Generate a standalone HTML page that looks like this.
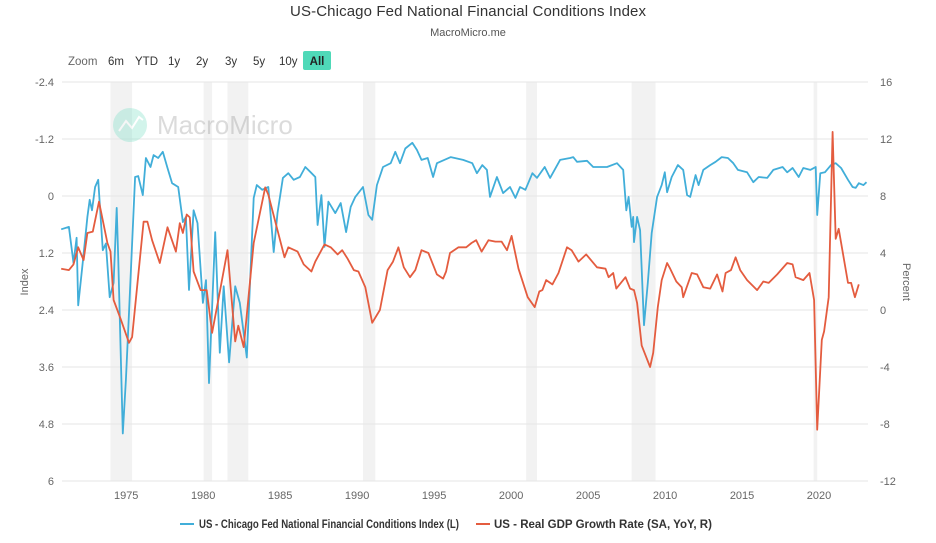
<!DOCTYPE html>
<html><head><meta charset="utf-8"><style>
body{margin:0;background:#fff;font-family:"Liberation Sans",sans-serif}
svg{display:block}
</style></head><body>
<svg id="chart" width="936" height="543" xmlns="http://www.w3.org/2000/svg">
<text x="468" y="16" text-anchor="middle" font-size="15" fill="#333" textLength="356">US-Chicago Fed National Financial Conditions Index</text>
<text x="468" y="36" text-anchor="middle" font-size="11" fill="#555">MacroMicro.me</text>
<g font-size="11.5" fill="#555">
<text x="68" y="65" fill="#666">Zoom</text>
<text x="108" y="65" fill="#333">6m</text>
<text x="135" y="65" fill="#333">YTD</text>
<text x="168" y="65" fill="#333">1y</text>
<text x="196" y="65" fill="#333">2y</text>
<text x="225" y="65" fill="#333">3y</text>
<text x="253" y="65" fill="#333">5y</text>
<text x="279" y="65" fill="#333">10y</text>
<rect x="303" y="51" width="28" height="19" rx="2" fill="#4fd9b8"/>
<text x="317" y="65" text-anchor="middle" font-weight="bold" fill="#222">All</text>
</g>
<g id="bands"></g>
<g id="grid"></g>
<g opacity="0.35">
<circle cx="130" cy="125" r="17" fill="#7fe0c8"/>
<polyline points="119,131 126,121 132,128 139,117 143,120" fill="none" stroke="#fff" stroke-width="2"/>
<text x="157" y="134" font-size="26" fill="#999">MacroMicro</text>
</g>
<g id="series"></g>
<g id="axes" font-size="11" fill="#666"></g>
<text transform="translate(28,282) rotate(-90)" text-anchor="middle" font-size="11" fill="#666">Index</text>
<text transform="translate(903,282) rotate(90)" text-anchor="middle" font-size="11" fill="#666">Percent</text>
<g font-weight="bold" fill="#333">
<line x1="180" y1="524" x2="194" y2="524" stroke="#41aed9" stroke-width="2"/>
<text x="199" y="528" font-size="11.5" textLength="260" lengthAdjust="spacingAndGlyphs">US - Chicago Fed National Financial Conditions Index (L)</text>
<line x1="476" y1="524" x2="490" y2="524" stroke="#e45c3f" stroke-width="2"/>
<text x="494" y="528" font-size="11.5">US - Real GDP Growth Rate (SA, YoY, R)</text>
</g>
</svg>
<script>
const leftTicks=[-2.4,-1.2,0,1.2,2.4,3.6,4.8,6];
const rightTicks=[16,12,8,4,0,-4,-8,-12];
const yearTicks=[1975,1980,1985,1990,1995,2000,2005,2010,2015,2020];
const recessions=[[1974.1,1975.5],[1980.15,1980.7],[1981.7,1983.05],[1990.5,1991.3],[2001.1,2001.8],[2007.95,2009.5],[2019.77,2020.0]];
const nfciYears=[1970.9,1971.4,1971.7,1971.9,1972.0,1972.3,1972.6,1972.75,1972.9,1973.1,1973.3,1973.6,1973.8,1974.05,1974.3,1974.5,1974.6,1974.9,1975.1,1975.3,1975.7,1975.9,1976.2,1976.4,1976.7,1976.9,1977.2,1977.5,1977.8,1978.1,1978.5,1978.8,1979.0,1979.2,1979.5,1979.75,1980.1,1980.3,1980.5,1980.9,1981.2,1981.45,1981.8,1982.2,1982.5,1982.95,1983.4,1983.6,1983.95,1984.35,1984.7,1984.95,1985.3,1985.65,1986.0,1986.4,1986.75,1987.1,1987.4,1987.55,1987.8,1988.0,1988.25,1988.7,1989.05,1989.4,1989.7,1990.0,1990.5,1990.85,1991.1,1991.4,1991.8,1992.3,1992.6,1992.9,1993.25,1993.7,1994.0,1994.3,1994.7,1995.05,1995.3,1996.2,1997.0,1997.6,1997.9,1998.25,1998.55,1998.75,1999.2,1999.6,2000.05,2000.4,2000.7,2001.05,2001.5,2001.8,2002.3,2002.65,2003.3,2003.95,2004.15,2004.4,2005.05,2005.45,2006.35,2007.0,2007.4,2007.6,2007.75,2007.95,2008.05,2008.1,2008.3,2008.5,2008.75,2009.0,2009.25,2009.6,2009.9,2010.1,2010.25,2010.55,2010.95,2011.3,2011.55,2011.75,2012.1,2012.3,2012.6,2013.05,2013.4,2013.8,2014.2,2014.55,2014.85,2015.45,2015.85,2016.2,2016.75,2017.15,2017.75,2018.05,2018.4,2018.8,2019.1,2019.55,2019.9,2020.0,2020.2,2020.5,2020.9,2021.2,2021.55,2022.0,2022.3,2022.5,2022.7,2023.0,2023.2];
const nfciValues=[0.7,0.65,1.41,0.88,2.3,1.39,0.44,0.08,0.3,-0.19,-0.34,1.14,1.0,2.13,1.83,0.25,1.28,5.0,3.87,2.46,-0.4,-0.42,-0.02,-0.8,-0.61,-0.86,-0.8,-0.93,-0.59,-0.27,-0.19,0.55,0.44,1.98,0.3,0.57,2.25,1.77,3.94,0.76,3.3,1.9,3.5,1.9,2.25,3.4,0.04,-0.23,-0.13,-0.19,1.18,0.36,-0.38,-0.48,-0.34,-0.4,-0.61,-0.5,-0.4,0.61,-0.02,1.07,0.12,0.36,0.15,0.76,0.23,0.02,-0.19,0.4,0.5,-0.23,-0.61,-0.69,-0.93,-0.69,-1.0,-1.12,-0.97,-0.76,-0.8,-0.4,-0.69,-0.82,-0.76,-0.69,-0.48,-0.65,-0.55,0.02,-0.4,-0.06,-0.19,0.04,-0.19,-0.13,-0.48,-0.38,-0.61,-0.38,-0.76,-0.8,-0.82,-0.72,-0.74,-0.61,-0.61,-0.69,-0.55,0.3,0.02,0.65,0.44,0.97,0.44,0.72,2.72,1.83,0.78,0.02,-0.23,-0.5,-0.08,-0.4,-0.65,-0.55,-0.02,0.02,-0.44,-0.23,-0.55,-0.65,-0.72,-0.82,-0.8,-0.69,-0.55,-0.5,-0.29,-0.4,-0.38,-0.55,-0.61,-0.5,-0.59,-0.4,-0.59,-0.55,-0.61,0.4,-0.48,-0.5,-0.65,-0.69,-0.59,-0.34,-0.19,-0.17,-0.27,-0.23,-0.29];
const gdpYears=[1970.9,1971.4,1971.7,1972.0,1972.35,1972.6,1972.95,1973.35,1973.9,1974.1,1974.3,1974.75,1975.3,1975.5,1976.25,1976.5,1976.8,1977.3,1977.8,1978.35,1978.6,1978.8,1979.05,1979.25,1979.5,1979.95,1980.35,1980.7,1981.1,1981.7,1981.9,1982.2,1982.4,1982.75,1983.4,1984.15,1984.35,1984.95,1985.4,1985.65,1986.25,1986.65,1987.15,1987.4,1988.0,1988.4,1988.85,1989.15,1989.5,1989.9,1990.2,1990.65,1991.1,1991.6,1992.1,1992.45,1992.8,1993.15,1993.55,1993.9,1994.3,1994.75,1995.3,1995.7,1995.9,1996.15,1996.7,1997.2,1997.55,1997.85,1998.2,1998.65,1999.1,1999.5,1999.85,2000.15,2000.6,2001.2,2001.65,2001.95,2002.15,2002.4,2002.8,2003.2,2003.75,2004.05,2004.5,2005.0,2005.7,2006.25,2006.45,2006.75,2006.95,2007.55,2007.85,2008.1,2008.3,2008.6,2009.15,2009.35,2009.65,2009.9,2010.25,2010.45,2010.85,2011.2,2011.3,2011.85,2012.2,2012.6,2013.05,2013.5,2013.85,2014.05,2014.4,2014.7,2015.0,2015.45,2016.1,2016.5,2016.85,2017.4,2018.05,2018.4,2018.6,2019.1,2019.5,2019.8,2020.0,2020.3,2020.45,2020.75,2021.0,2021.2,2021.4,2022.0,2022.2,2022.45,2022.7];
const gdpValues=[2.9,2.8,3.2,4.4,3.5,5.4,5.5,7.6,4.7,4.1,0.7,-0.6,-2.3,-1.9,6.2,6.2,4.9,3.3,5.8,4.1,6.1,5.4,6.7,6.5,2.7,1.4,1.4,-1.6,0.7,4.2,1.6,-2.2,-1.1,-2.6,4.7,8.6,8.1,5.6,3.7,4.4,4.1,3.2,2.7,3.4,4.6,4.4,3.9,4.2,3.6,2.8,2.7,1.6,-0.9,0.0,2.8,3.4,4.4,3.0,2.3,2.8,4.2,4.0,2.5,2.2,2.7,4.0,4.4,4.4,4.7,4.9,4.1,4.9,4.8,4.8,4.2,5.2,2.9,0.9,0.2,1.3,1.4,2.1,1.8,2.6,4.4,4.2,3.4,3.9,3.0,2.9,2.3,2.6,1.5,2.3,1.5,1.4,0.5,-2.5,-4.0,-3.0,0.2,2.1,3.3,2.9,2.0,1.6,0.9,2.6,2.5,1.6,1.5,2.5,1.3,2.6,2.8,3.7,2.8,2.1,1.4,2.0,1.9,2.5,3.3,3.2,2.3,2.1,2.6,0.7,-8.4,-2.1,-1.5,0.9,12.5,5.0,5.7,1.9,1.9,0.9,1.8];

const X0=62,X1=868,T=82,B=481;
const yr0=1970.95,yr1=2023.3;
const xs=y=>X0+(y-yr0)/(yr1-yr0)*(X1-X0);
const yl=v=>T+(v+2.4)/8.4*(B-T);
const yr=v=>T+(16-v)/28*(B-T);
const NS="http://www.w3.org/2000/svg";
function mk(tag,attrs,parent){const e=document.createElementNS(NS,tag);for(const k in attrs)e.setAttribute(k,attrs[k]);document.getElementById(parent).appendChild(e);return e;}

recessions.forEach(r=>{
  const e=mk('rect',{x:xs(r[0]),y:T,width:Math.max(3,xs(r[1])-xs(r[0])),height:B-T,fill:'#f2f2f2'},'bands');
  
  
});
leftTicks.forEach((v,i)=>{
  const g=mk('line',{x1:X0,x2:X1,y1:yl(v),y2:yl(v),stroke:'#e6e6e6','stroke-width':1},'grid');
  
  
  const t=mk('text',{x:54,y:yl(v)+4,'text-anchor':'end'},'axes');t.textContent=String(v);
  
  
  const t2=mk('text',{x:880,y:yr(rightTicks[i])+4},'axes');t2.textContent=String(rightTicks[i]);
  
  
});
yearTicks.forEach(y=>{
  const t=mk('text',{x:xs(y+0.12),y:499,'text-anchor':'middle'},'axes');t.textContent=String(y);
  
  
});
const p1=mk('polyline',{points:nfciYears.map((y,i)=>xs(y).toFixed(1)+','+yl(nfciValues[i]).toFixed(1)).join(' '),fill:'none',stroke:'#41aed9','stroke-width':1.8,'stroke-linejoin':'round'},'series');


const p2=mk('polyline',{points:gdpYears.map((y,i)=>xs(y).toFixed(1)+','+yr(gdpValues[i]).toFixed(1)).join(' '),fill:'none',stroke:'#e45c3f','stroke-width':1.8,'stroke-linejoin':'round'},'series');


</script>
</body></html>
